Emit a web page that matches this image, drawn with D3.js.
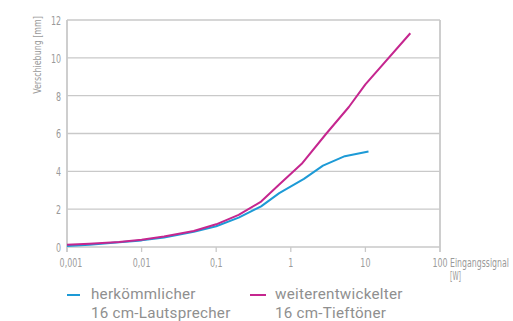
<!DOCTYPE html>
<html>
<head>
<meta charset="utf-8">
<script src="https://cdn.jsdelivr.net/npm/d3@7/dist/d3.min.js"></script>
<style>
  html, body { margin: 0; padding: 0; background: #fff; }
  svg { display: block; }
  .cond { font-family: "DejaVu Sans Condensed", "Liberation Sans Narrow", "Roboto", sans-serif; }
  .leg { font-family: "Roboto", "Open Sans", "Noto Sans", sans-serif; letter-spacing: 0.25px; }
</style>
</head>
<body>
<svg id="chart" width="513" height="321"></svg>
<script>
// Input signal (W) against cone displacement (mm)
const xTicks = [0.001, 0.01, 0.1, 1, 10, 100];
const xTickLabels = ["0,001", "0,01", "0,1", "1", "10", "100"];
const yTicks = [0, 2, 4, 6, 8, 10, 12];

const conventionalWatts = [0.001, 0.002, 0.005, 0.01, 0.02, 0.05, 0.1, 0.2, 0.4, 0.7, 1.5, 2.7, 5.3, 11];
const conventionalMm    = [0.05, 0.12, 0.25, 0.35, 0.5, 0.8, 1.1, 1.55, 2.15, 2.85, 3.6, 4.3, 4.8, 5.05];

const improvedWatts = [0.001, 0.002, 0.005, 0.01, 0.02, 0.05, 0.1, 0.2, 0.4, 0.7, 1.4, 3, 6, 10, 40];
const improvedMm    = [0.12, 0.17, 0.27, 0.38, 0.55, 0.85, 1.2, 1.7, 2.4, 3.3, 4.4, 6.0, 7.4, 8.6, 11.3];

const seriesNames = [["herkömmlicher", "16 cm-Lautsprecher"], ["weiterentwickelter", "16 cm-Tieftöner"]];
const seriesColors = ["#1d9ad6", "#c5268f"];

const svg = d3.select("#chart");
const plotLeft = 67, plotRight = 440, plotTop = 20, plotBottom = 247;
const gridColor = "#c9c9c9";
const textColor = "#9a9a9a";

// narrow a text horizontally (condensed look) by scaling around its anchor x
function squeeze(sel, factor) {
  sel.each(function () {
    const t = d3.select(this);
    const x0 = +t.attr("x") || 0;
    t.attr("x", x0 / factor).attr("transform", `scale(${factor},1)`);
  });
}
// narrow a text so that it spans the given width
function squeezeTo(sel, width) {
  sel.each(function () {
    const w = this.getComputedTextLength();
    if (w > 0) d3.select(this).call(squeeze, width / w);
  });
}

const x = d3.scaleLog().domain([0.001, 100]).range([plotLeft, plotRight]);
const y = d3.scaleLinear().domain([0, 12]).range([plotBottom, plotTop]);

// horizontal gridlines
svg.append("g").selectAll("line").data(yTicks.filter(d => d > 0)).join("line")
  .attr("x1", plotLeft).attr("x2", plotRight)
  .attr("y1", d => y(d)).attr("y2", d => y(d))
  .attr("stroke", gridColor).attr("stroke-width", 1.3);

// baseline
svg.append("line").attr("x1", plotLeft).attr("x2", plotRight).attr("y1", y(0)).attr("y2", y(0))
  .attr("stroke", gridColor).attr("stroke-width", 1.3);

// left and right frame
svg.append("line").attr("x1", plotLeft).attr("x2", plotLeft).attr("y1", plotTop).attr("y2", plotBottom + 5)
  .attr("stroke", gridColor).attr("stroke-width", 1.8);
svg.append("line").attr("x1", plotRight).attr("x2", plotRight).attr("y1", plotTop).attr("y2", plotBottom + 5)
  .attr("stroke", gridColor).attr("stroke-width", 1.8);

// x ticks and labels
const xAxis = svg.append("g");
xAxis.selectAll("line").data(xTicks.slice(1, -1)).join("line")
  .attr("x1", d => x(d)).attr("x2", d => x(d))
  .attr("y1", plotBottom).attr("y2", plotBottom + 5)
  .attr("stroke", gridColor).attr("stroke-width", 1.3);
xAxis.selectAll("text").data(xTicks).join("text")
  .attr("class", "cond")
  .attr("x", (d, i) => x(d) + (i === 0 ? 4 : 0))
  .attr("y", 267)
  .attr("text-anchor", "middle")
  .attr("font-size", 13)
  .attr("fill", textColor)
  .text((d, i) => xTickLabels[i])
  .call(squeeze, 0.68);

// y tick labels
svg.append("g").selectAll("text").data(yTicks).join("text")
  .attr("class", "cond")
  .attr("x", 61)
  .attr("y", d => y(d) + 5)
  .attr("text-anchor", "end")
  .attr("font-size", 13)
  .attr("fill", textColor)
  .text(d => d)
  .call(squeeze, 0.68);

// axis titles
svg.append("g")
  .attr("transform", "translate(41,55) rotate(-90)")
  .append("text").attr("class", "cond")
  .attr("x", 0).attr("y", 0)
  .attr("text-anchor", "middle")
  .attr("font-size", 11)
  .attr("fill", textColor)
  .text("Verschiebung [mm]")
  .call(squeeze, 0.8);

const xTitle = svg.append("g").attr("fill", textColor);
xTitle.append("text").attr("class", "cond")
  .attr("x", 450).attr("y", 267)
  .attr("font-size", 12)
  .text("Eingangssignal")
  .call(squeezeTo, 59);
xTitle.append("text").attr("class", "cond")
  .attr("x", 450).attr("y", 280)
  .attr("font-size", 12)
  .text("[W]")
  .call(squeezeTo, 11);

// series lines
const line = d3.line().x(d => x(d[0])).y(d => y(d[1])).curve(d3.curveLinear);
const series = [
  d3.zip(conventionalWatts, conventionalMm),
  d3.zip(improvedWatts, improvedMm)
];
svg.append("g").selectAll("path").data(series).join("path")
  .attr("d", line)
  .attr("fill", "none")
  .attr("stroke", (d, i) => seriesColors[i])
  .attr("stroke-width", 2)
  .attr("stroke-linejoin", "round");

// legend: colour swatch plus a two-line label
const legendX = [67, 250];
const legend = svg.append("g").selectAll("g").data(seriesNames).join("g")
  .attr("transform", (d, i) => `translate(${legendX[i]},0)`);
legend.append("line")
  .attr("x1", 0).attr("x2", (d, i) => i === 0 ? 13 : 16).attr("y1", 295).attr("y2", 295)
  .attr("stroke", (d, i) => seriesColors[i]).attr("stroke-width", 2);
const legendText = legend.append("text").attr("class", "leg")
  .attr("y", 299)
  .attr("font-size", 15.2)
  .attr("fill", "#8f8f8f");
legendText.append("tspan")
  .attr("x", (d, i) => i === 0 ? 24 : 25)
  .text(d => d[0]);
legendText.append("tspan")
  .attr("x", (d, i) => i === 0 ? 24 : 25)
  .attr("dy", 18.5)
  .text(d => d[1]);
</script>
</body>
</html>
